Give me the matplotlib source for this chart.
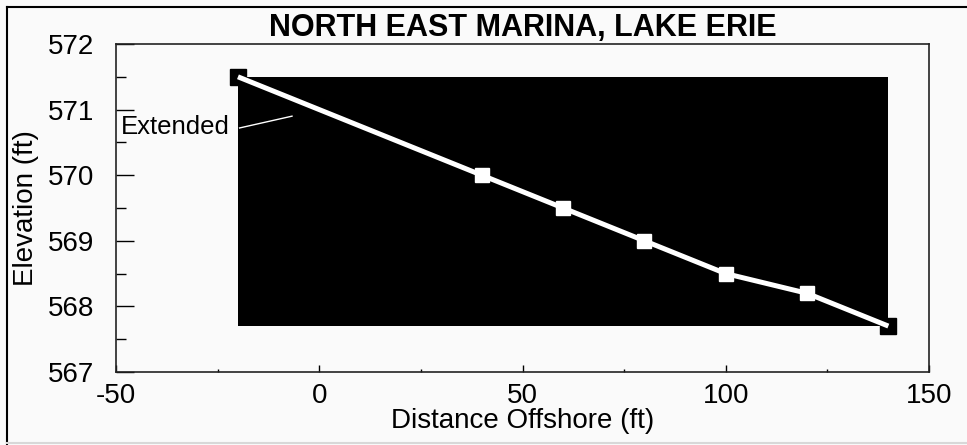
import matplotlib
matplotlib.use("Agg")
import matplotlib.pyplot as plt
from matplotlib.lines import Line2D
from matplotlib.patches import Rectangle
from matplotlib.ticker import MultipleLocator

plt.rcParams['font.family'] = ['Liberation Sans', 'DejaVu Sans']
plt.rcParams['axes.unicode_minus'] = False

# beach profile, distance offshore (ft) vs elevation (ft)
distance = [-20, 40, 60, 80, 100, 120, 140]
elevation = [571.5, 570.0, 569.5, 569.0, 568.5, 568.2, 567.7]

title = "NORTH EAST MARINA, LAKE ERIE"
bg = '#fafafa'

fig = plt.figure(figsize=(9.67, 4.45), dpi=100, facecolor=bg)
ax = fig.add_axes([116 / 967, 1 - 372 / 445, 813 / 967, 328 / 445])
ax.set_facecolor(bg)

# black block spanning the profile extent
x0, x1 = min(distance), max(distance)
y0, y1 = min(elevation), max(elevation)
ax.add_patch(Rectangle((x0, y0), x1 - x0, y1 - y0, facecolor='black', edgecolor='none', zorder=1))

# end points
ax.plot([distance[0], distance[-1]], [elevation[0], elevation[-1]], 's', color='black',
        markersize=11, zorder=2)
ax.plot(distance, elevation, '-', color='white', lw=3.6, zorder=3, solid_capstyle='butt')
ax.plot(distance[1:-1], elevation[1:-1], 's', color='white', markersize=10.5, zorder=4)

ax.text(-48.8, 570.73, "Extended", fontsize=18.5, va='center', ha='left', zorder=5)
ax.plot([-19.6, -6.7], [570.72, 570.9], color='white', lw=1, zorder=5)

ax.set_xlim(-50, 150)
ax.set_ylim(567, 572)
ax.xaxis.set_major_locator(MultipleLocator(50))
ax.xaxis.set_minor_locator(MultipleLocator(25))
ax.yaxis.set_major_locator(MultipleLocator(1))
ax.yaxis.set_minor_locator(MultipleLocator(0.5))
ax.tick_params(axis='y', which='major', direction='in', length=13, width=1, labelsize=20, pad=16)
ax.tick_params(axis='y', which='minor', direction='in', length=7, width=1)
ax.tick_params(axis='x', which='major', direction='in', length=5, width=1, labelsize=20, pad=8)
ax.tick_params(axis='x', which='minor', direction='in', length=2.5, width=1)
for s in ax.spines.values():
    s.set_linewidth(1.2)
    s.set_color('#222222')

ax.set_xlabel("Distance Offshore (ft)", fontsize=20, labelpad=-1)
ax.set_ylabel("Elevation (ft)", fontsize=20, labelpad=6)
ax.set_title(title, fontsize=22, fontweight='bold', pad=6)

# window frame
fig.add_artist(Line2D([7 / 967, 7 / 967], [0, 1 - 7 / 445], color='black', lw=1.5, transform=fig.transFigure))
fig.add_artist(Line2D([7 / 967, 1], [1 - 7 / 445, 1 - 7 / 445], color='black', lw=1.5, transform=fig.transFigure))
fig.add_artist(Line2D([7 / 967, 1], [2 / 445, 2 / 445], color='#d8d8d8', lw=1.5, transform=fig.transFigure))

fig.savefig("out.png", dpi=100, facecolor=bg)
